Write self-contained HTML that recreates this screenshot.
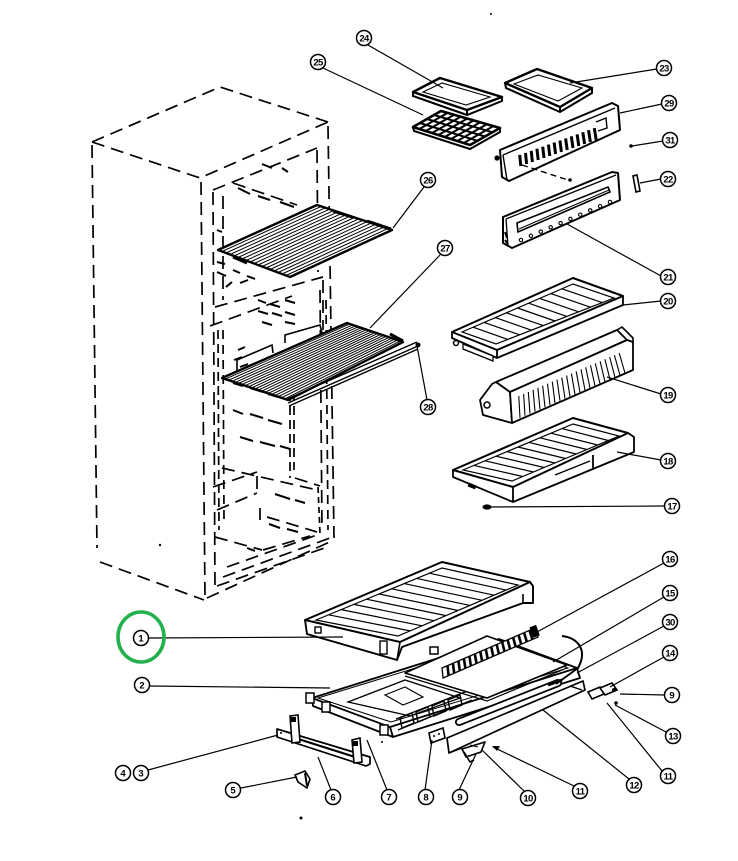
<!DOCTYPE html>
<html><head><meta charset="utf-8"><style>
html,body{margin:0;padding:0;background:#fff;}
svg{display:block;}
text{font-family:"Liberation Sans",sans-serif;font-size:9.5px;font-weight:bold;}
</style></head><body>
<svg id="s" width="738" height="861" viewBox="0 0 738 861" xmlns="http://www.w3.org/2000/svg">
<rect width="738" height="861" fill="#fff"/>

<!-- ===== Cabinet (dashed) ===== -->
<g fill="none" stroke="#000" stroke-width="1.7" stroke-dasharray="13 7" stroke-linecap="butt">
  <path d="M92,142 L220,87 L328,122"/>
  <path d="M92,142 L200,178 L328,122"/>
  <path d="M92,145 L97,548"/>
  <path d="M100,562 L204,600"/>
  <path d="M201,182 L205,598"/>
  <path d="M328,126 L334,538"/>
  <path d="M207,598 L334,540"/>
  <path d="M213,190 L317,148"/>
  <path d="M317,150 L318,272"/>
  <path d="M213,192 L215,592"/>
  <path d="M223,196 L223,300"/>
  <path d="M233,183 L297,205"/>
  <path d="M215,307 L323,277"/>
  <path d="M323,280 L323,330"/>
  <path d="M210,326 L292,296"/>
  <path d="M218,330 L219,530" stroke-dasharray="9 5"/>
  <path d="M223,330 L224,520" stroke-dasharray="9 6"/>
  <path d="M290,378 L290,478" stroke-dasharray="9 5"/>
  <path d="M294,378 L294,470" stroke-dasharray="9 5"/>
  <path d="M320,290 L322,530"/>
  <path d="M326,300 L328,530" stroke-dasharray="9 6"/>
  <path d="M295,478 L320,486"/>
  <path d="M222,468 L317,490"/>
  <path d="M213,487 L257,472"/>
  <path d="M217,510 L257,493"/>
  <path d="M257,476 L257,493"/>
  <path d="M260,508 L260,520"/>
  <path d="M267,517 L317,532"/>
  <path d="M215,537 L262,550"/>
  <path d="M263,550 L310,536"/>
  <path d="M227,567 L317,535"/>
  <path d="M223,577 L330,538"/>
  <path d="M217,586 L330,546"/>
  <path d="M318,487 L320,533" stroke-dasharray="6 4"/>
</g>
<g stroke="#000" stroke-width="2" fill="none">
  <path d="M262,164 L272,168 M282,168 L288,172 M238,188 L250,194 M258,196 L270,200 M280,202 L294,207"/>
  <path d="M217,230 L222,232 M217,262 L225,264 M217,272 L226,276 M233,270 L240,273 M247,276 L255,279"/>
  <path d="M226,287 L232,282 M240,283 L248,280"/>
  <path d="M258,300 L266,303 M270,304 L280,307 M285,300 L295,303 M258,311 L268,314 M272,313 L282,316 M285,312 L295,315 M262,322 L272,325 M285,322 L295,324"/>
  <path d="M233,383 L243,386 M250,388 L263,392 M268,394 L282,398 M233,410 L243,414 M250,414 L263,418 M268,420 L282,424 M240,437 L253,441 M260,442 L275,446 M280,446 L290,449"/>
  <path d="M238,350 L245,347 M234,360 L242,357 M240,367 L248,364"/>
  <path d="M275,494 L290,499 M295,500 L305,503 M247,548 L255,551 M269,524 L280,528 M287,529 L298,532"/>
</g>

<!-- ===== Shelf 26 ===== -->
<polygon points="218,250 317,205 392,230 290,277" fill="#fff" stroke="#000" stroke-width="2.4" stroke-linejoin="round"/>
<g id="h26" stroke="#000" stroke-width="1.0"></g>
<path d="M333,211 L352,217 M367,221 L391,229 M233,257 L247,263" stroke="#000" stroke-width="3"/>

<!-- ===== Shelf 27 ===== -->
<path d="M237,371 L237,360 L272,345 L273,353 M285,343 L285,335 L320,325 L322,333" fill="none" stroke="#000" stroke-width="1.6"/>
<polygon points="222,378 347,323 403,342 288,400" fill="#fff" stroke="#000" stroke-width="2.4" stroke-linejoin="round"/>
<g id="h27" stroke="#000" stroke-width="1.0"></g>
<path d="M390,334 L403,341" stroke="#000" stroke-width="3"/>
<path d="M287,399 L417,342 M288,403 L418,346 M289,406 L418,349" stroke="#000" stroke-width="1.4"/>
<circle cx="418" cy="345" r="2.5" fill="#000"/>

<!-- ===== Part 24 ===== -->
<path d="M413,92 L413,96 L467,115 L502,101 L502,97 M467,110 L467,115" fill="none" stroke="#000" stroke-width="2"/>
<polygon points="413,92 440,78 502,97 467,110" fill="#fff" stroke="#000" stroke-width="2.4" stroke-linejoin="round"/>
<polygon points="423,92 442,83 490,97 466,105" fill="none" stroke="#000" stroke-width="1.1"/>

<!-- ===== Part 25 ===== -->
<path d="M413,127 L414,131 L470,149 L500,132 L500,128" fill="none" stroke="#000" stroke-width="2"/>
<polygon points="413,127 441,111 500,128 470,145" fill="#fff" stroke="#000" stroke-width="2.6" stroke-linejoin="round"/>
<g id="h25" stroke="#000" stroke-width="2"></g>

<!-- ===== Part 23 ===== -->
<path d="M505,83 L506,88 L560,112 L592,93 L592,88 M560,107 L560,112" fill="none" stroke="#000" stroke-width="2"/>
<polygon points="505,83 537,69 592,88 560,107" fill="#fff" stroke="#000" stroke-width="2.4" stroke-linejoin="round"/>
<polygon points="514,84 538,75 582,88 558,101" fill="none" stroke="#000" stroke-width="1.1"/>

<!-- ===== Part 29 ===== -->
<path d="M500,150 L612,103 L618,106 L620,130 L509,181 L502,177 Z" fill="#fff" stroke="#000" stroke-width="2" stroke-linejoin="round"/>
<path d="M503,155 L615,108 M503,155 L507,180 M596,122 L606,118 L607,128 L598,131" fill="none" stroke="#000" stroke-width="1.4"/>
<g id="h29" stroke="#000" stroke-width="3"></g>
<circle cx="497" cy="158" r="2.6" fill="#000"/>
<path d="M522,165 L568,180" stroke="#000" stroke-width="1.4" stroke-dasharray="6 4"/>
<circle cx="570" cy="180" r="1.8" fill="#000"/>

<!-- ===== Part 21 ===== -->
<path d="M503,217 L612,172 L618,173 L620,200 L512,248 L503,243 Z" fill="#fff" stroke="#000" stroke-width="2" stroke-linejoin="round"/>
<path d="M506,219 L616,175 M506,219 L508,246" fill="none" stroke="#000" stroke-width="1.3"/>
<polygon points="517,223 608,187 610,192 518,232" fill="none" stroke="#000" stroke-width="1.6"/>
<path d="M519,229 L609,190" stroke="#000" stroke-width="1"/>
<g id="c21" fill="none" stroke="#000" stroke-width="1.1"></g>
<path d="M505,232 L507,238 M505,240 L508,244" stroke="#000" stroke-width="2"/>

<!-- ===== Part 22 ===== -->
<polygon points="633,176 637,175 640,191 636,192" fill="#fff" stroke="#000" stroke-width="1.6"/>

<!-- ===== Part 20 ===== -->
<path d="M452,332 L452,338 L497,358 L623,305 L623,296 M497,350 L497,358" fill="none" stroke="#000" stroke-width="1.8"/>
<polygon points="452,332 573,278 623,296 497,350" fill="#fff" stroke="#000" stroke-width="2" stroke-linejoin="round"/>
<polygon points="462,332 573,284 614,298 496,344" fill="none" stroke="#000" stroke-width="1.2"/>
<g id="h20" stroke="#000" stroke-width="1.2"></g>
<circle cx="456" cy="343" r="2.5" fill="#fff" stroke="#000" stroke-width="1.5"/>
<polygon points="463,344 493,356 493,361 463,349" fill="#fff" stroke="#000" stroke-width="1.3"/>

<!-- ===== Part 19 ===== -->
<path d="M480,400 L492,384 L496,382 L510,392 L512,423 L483,415 Z" fill="#fff" stroke="#000" stroke-width="1.8" stroke-linejoin="round"/>
<path d="M496,382 L617,330 L627,340 L510,392 Z" fill="#fff" stroke="#000" stroke-width="1.8" stroke-linejoin="round"/>
<path d="M510,392 L627,340 L633,342 L633,370 L512,423 Z" fill="#fff" stroke="#000" stroke-width="1.8" stroke-linejoin="round"/>
<path d="M617,330 L622,327 L633,338 L633,342" fill="none" stroke="#000" stroke-width="1.6"/>
<g id="h19" stroke="#000" stroke-width="1.1"></g>
<circle cx="487" cy="405" r="3" fill="#fff" stroke="#000" stroke-width="1.5"/>

<!-- ===== Part 18 ===== -->
<path d="M453,470 L453,477 L513,502 L634,452 L634,437 L628,433 M513,487 L513,502 M593,455 L593,470" fill="#fff" stroke="#000" stroke-width="1.8" stroke-linejoin="round"/>
<polygon points="453,470 573,418 628,433 513,487" fill="#fff" stroke="#000" stroke-width="2" stroke-linejoin="round"/>
<polygon points="463,470 573,424 619,436 512,481" fill="none" stroke="#000" stroke-width="1.2"/>
<g id="h18" stroke="#000" stroke-width="1.2"></g>
<path d="M555,475 L590,461" stroke="#000" stroke-width="1.3"/>
<rect x="468" y="484" width="8" height="4" fill="#000" transform="rotate(22 472 486)"/>

<!-- ===== Part 17 ===== -->
<ellipse cx="487" cy="507" rx="4.5" ry="2.6" fill="#000"/>

<!-- ===== Base frame 2 ===== -->
<path d="M312,698 L313,706 L393,737 L580,678 L577,668 M390,727 L393,737" fill="#fff" stroke="#000" stroke-width="1.8" stroke-linejoin="round"/>
<polygon points="312,698 499,639 577,668 390,727" fill="#fff" stroke="#000" stroke-width="1.8" stroke-linejoin="round"/>
<polygon points="318,698 497,643 568,668 391,722" fill="none" stroke="#000" stroke-width="1"/>
<polygon points="348,702 405,680 460,698 410,716" fill="none" stroke="#000" stroke-width="1.3"/>
<polygon points="385,695 405,687 423,697 403,705" fill="none" stroke="#000" stroke-width="1.2"/>
<g fill="#fff" stroke="#000" stroke-width="1.5">
  <rect x="306" y="693" width="8" height="10"/>
  <rect x="322" y="702" width="8" height="10"/>
  <rect x="380" y="725" width="8" height="10"/>
  <rect x="430" y="647" width="8" height="7"/>
</g>
<g fill="none" stroke="#000" stroke-width="1.4">
  <polygon points="400,718 412,713 414,723 402,728"/>
  <polygon points="416,712 428,707 430,717 418,722"/>
  <polygon points="432,706 444,701 446,711 434,716"/>
  <polygon points="448,700 460,695 462,705 450,710"/>
  <path d="M396,719 L470,690 M398,730 L472,700"/>
</g>
<path d="M459,722 L558,683" stroke="#000" stroke-width="8" stroke-linecap="round"/>
<path d="M459,722 L558,683" stroke="#fff" stroke-width="4.5" stroke-linecap="round"/>

<!-- ===== Plate 15 ===== -->
<polygon points="405,673 487,636 567,665 487,698" fill="#fff" stroke="#000" stroke-width="1.6" stroke-linejoin="round"/>
<path d="M405,676 L487,701 L567,668" fill="none" stroke="#000" stroke-width="1.2"/>

<!-- ===== Grille 16 ===== -->
<polygon points="442,668 535,628 538,637 443,678" fill="#fff" stroke="#000" stroke-width="1.3"/>
<g id="h16" stroke="#000" stroke-width="2.6"></g>
<rect x="531" y="626" width="7" height="11" fill="#000" transform="rotate(-20 534 631)"/>

<!-- ===== Wire 30 ===== -->
<path d="M562,636 C578,638 588,650 578,668 L556,684" fill="none" stroke="#000" stroke-width="2"/>
<path d="M548,685 L562,680" stroke="#000" stroke-width="3"/>

<!-- ===== Crisper cover (1) ===== -->
<path d="M305,620 L307,634 L397,660 L402,647 L523,603 L527,603 L533,603 L533,586 L530,582" fill="#fff" stroke="#000" stroke-width="1.9" stroke-linejoin="round"/>
<path d="M400,642 L397,660 M523,603 L523,594" fill="none" stroke="#000" stroke-width="1.6"/>
<polygon points="305,620 442,562 530,582 400,642" fill="#fff" stroke="#000" stroke-width="2" stroke-linejoin="round"/>
<polygon points="316,620 442,568 518,585 398,636" fill="none" stroke="#000" stroke-width="1.2"/>
<g id="h1" stroke="#000" stroke-width="1.2"></g>
<g fill="#fff" stroke="#000" stroke-width="1.4">
  <rect x="315" y="627" width="6" height="6"/>
  <rect x="380" y="641" width="7" height="13"/>
</g>

<!-- ===== Bar 12 ===== -->
<path d="M447,738 L583,681 L585,690 L449,753 Z" fill="#fff" stroke="#000" stroke-width="1.7" stroke-linejoin="round"/>
<path d="M449,753 L462,748" stroke="#000" stroke-width="1.4"/>
<path d="M570,686 L582,690" stroke="#000" stroke-width="1.3"/>

<!-- small parts -->
<polygon points="429,733 443,728 445,738 431,743" fill="#fff" stroke="#000" stroke-width="1.6"/>
<circle cx="434" cy="736" r="1" fill="#000"/><circle cx="439" cy="734" r="1" fill="#000"/>
<path d="M462,749 L485,742 L481,752 L466,757 Z M464,752 L470,762 L474,760" fill="#fff" stroke="#000" stroke-width="1.6" stroke-linejoin="round"/>
<path d="M470,745 L478,747" stroke="#000" stroke-width="1"/>
<polygon points="588,692 600,687 604,694 592,699" fill="#fff" stroke="#000" stroke-width="1.6"/>
<polygon points="600,688 612,683 617,690 605,695" fill="#fff" stroke="#000" stroke-width="1.6"/>
<circle cx="614" cy="690" r="2" fill="#000"/>
<circle cx="616" cy="703" r="1.8" fill="#000"/>

<!-- bracket 3/4/6 -->
<path d="M277,729 L370,757 L370,764 L366,766 L277,737 Z" fill="#fff" stroke="#000" stroke-width="1.7" stroke-linejoin="round"/>
<path d="M292,737 L355,757" stroke="#000" stroke-width="2.2"/>
<polygon points="290,716 298,715 300,742 292,743" fill="#fff" stroke="#000" stroke-width="1.6"/>
<rect x="291" y="717" width="5" height="5" fill="#000"/>
<polygon points="352,740 360,738 362,762 354,763" fill="#fff" stroke="#000" stroke-width="1.6"/>
<rect x="353" y="741" width="5" height="5" fill="#000"/>
<circle cx="281" cy="733" r="1" fill="#000"/>
<path d="M295,775 L305,771 L310,779 L307,788 L298,782 Z" fill="#fff" stroke="#000" stroke-width="1.6" stroke-linejoin="round"/>
<path d="M305,773 L307,786" stroke="#000" stroke-width="2"/>

<!-- specks -->
<circle cx="301" cy="818" r="1.5" fill="#000"/>
<circle cx="160" cy="545" r="1.2" fill="#000"/>
<circle cx="382" cy="742" r="1" fill="#000"/>
<circle cx="491" cy="14" r="1" fill="#000"/>

<!-- ===== Leader lines ===== -->
<g stroke="#000" stroke-width="1.2" fill="none">
  <path d="M368,45 L443,88"/>
  <path d="M323,68 L423,115"/>
  <path d="M657,69 L570,83"/>
  <path d="M662,104 L620,113"/>
  <path d="M663,141 L632,146"/>
  <path d="M661,179 L640,183"/>
  <path d="M424,187 L393,228"/>
  <path d="M440,255 L370,328"/>
  <path d="M661,276 L567,224"/>
  <path d="M661,301 L623,305"/>
  <path d="M427,400 L417,346"/>
  <path d="M661,394 L607,377"/>
  <path d="M661,460 L617,452"/>
  <path d="M665,506 L489,507"/>
  <path d="M664,563 L537,632"/>
  <path d="M664,597 L553,662"/>
  <path d="M664,626 L577,673"/>
  <path d="M664,657 L610,687"/>
  <path d="M665,695 L620,694"/>
  <path d="M666,732 L615,705"/>
  <path d="M662,771 L607,703"/>
  <path d="M629,779 L543,710"/>
  <path d="M574,786 L493,747"/>
  <path d="M524,791 L482,750"/>
  <path d="M459,790 L476,754"/>
  <path d="M425,790 L432,740"/>
  <path d="M387,790 L367,740"/>
  <path d="M331,790 L318,757"/>
  <path d="M241,788 L297,777"/>
  <path d="M148,770 L278,735"/>
  <path d="M150,686 L330,688"/>
  <path d="M149,638 L343,637"/>
</g>
<circle cx="631" cy="146" r="1.8" fill="#000"/>
<polygon points="492,746 500,746 497,751" fill="#000"/>

<!-- ===== Labels ===== -->
<g id="labels" fill="#fff" stroke="#000" stroke-width="1.5"></g>

<!-- green highlight -->
<ellipse cx="141" cy="637" rx="23" ry="25" fill="none" stroke="#22b14c" stroke-width="3.6"/>

<script>
(function(){
var NS="http://www.w3.org/2000/svg";
function lerp(a,b,t){return [a[0]+(b[0]-a[0])*t,a[1]+(b[1]-a[1])*t];}
function hatch(id,A,B,C,D,n,w){
  var g=document.getElementById(id);
  for(var i=1;i<=n;i++){var t=i/(n+1);var p=lerp(A,B,t),q=lerp(D,C,t);
    var l=document.createElementNS(NS,"line");
    l.setAttribute("x1",p[0].toFixed(1));l.setAttribute("y1",p[1].toFixed(1));
    l.setAttribute("x2",q[0].toFixed(1));l.setAttribute("y2",q[1].toFixed(1));
    if(w)l.setAttribute("stroke-width",w);
    g.appendChild(l);}
}
hatch("h26",[218,250],[290,277],[392,230],[317,205],17);
hatch("h27",[222,378],[288,400],[403,342],[347,323],19);
var P1=[413,127],P2=[441,111],P3=[500,128],P4=[470,145];
hatch("h25",P2,P1,P4,P3,3);
hatch("h25",P1,P4,P3,P2,8);
hatch("h29",[514,157],[600,126],[602,138],[515,168],14);
hatch("h20",[462,332],[573,284],[614,298],[496,344],9);
hatch("h18",[463,470],[573,424],[619,436],[512,481],9);
hatch("h1",[316,620],[442,568],[518,585],[398,636],9);
hatch("h19",[514,398],[624,351],[630,371],[515,420],22);
hatch("h16",[442,668],[535,628],[538,637],[443,678],16);
var g=document.getElementById("c21");
for(var i=0;i<10;i++){var p=lerp([521,240],[610,202],i/9);
  var c=document.createElementNS(NS,"circle");
  c.setAttribute("cx",p[0].toFixed(1));c.setAttribute("cy",p[1].toFixed(1));c.setAttribute("r","1.7");g.appendChild(c);}
var L=[["24",364,38],["25",318,62],["23",664,68],["29",669,103],["31",670,140],["22",668,179],["26",428,180],["27",445,248],
["21",668,277],["20",668,301],["28",428,407],["19",668,395],["18",668,461],["17",672,506],["16",670,559],["15",670,593],
["30",670,622],["14",670,653],["9",672,695],["13",673,736],["11",668,776],["12",634,785],["11",580,791],["10",528,798],
["9",460,797],["8",426,797],["7",389,797],["6",333,797],["5",233,790],["4",123,773],["3",141,773],["2",142,685],["1",141,638]];
var lg=document.getElementById("labels");
L.forEach(function(a){
  var c=document.createElementNS(NS,"circle");
  c.setAttribute("cx",a[1]);c.setAttribute("cy",a[2]);c.setAttribute("r","7.5");lg.appendChild(c);
  var t=document.createElementNS(NS,"text");
  t.setAttribute("x",a[1]);t.setAttribute("y",a[2]+3.4);t.setAttribute("text-anchor","middle");
  t.setAttribute("fill","#000");t.setAttribute("stroke","none");
  if(a[0].length>1)t.setAttribute("letter-spacing","-0.6");
  t.textContent=a[0];lg.appendChild(t);
});
})();
</script>
</svg>
</body></html>
